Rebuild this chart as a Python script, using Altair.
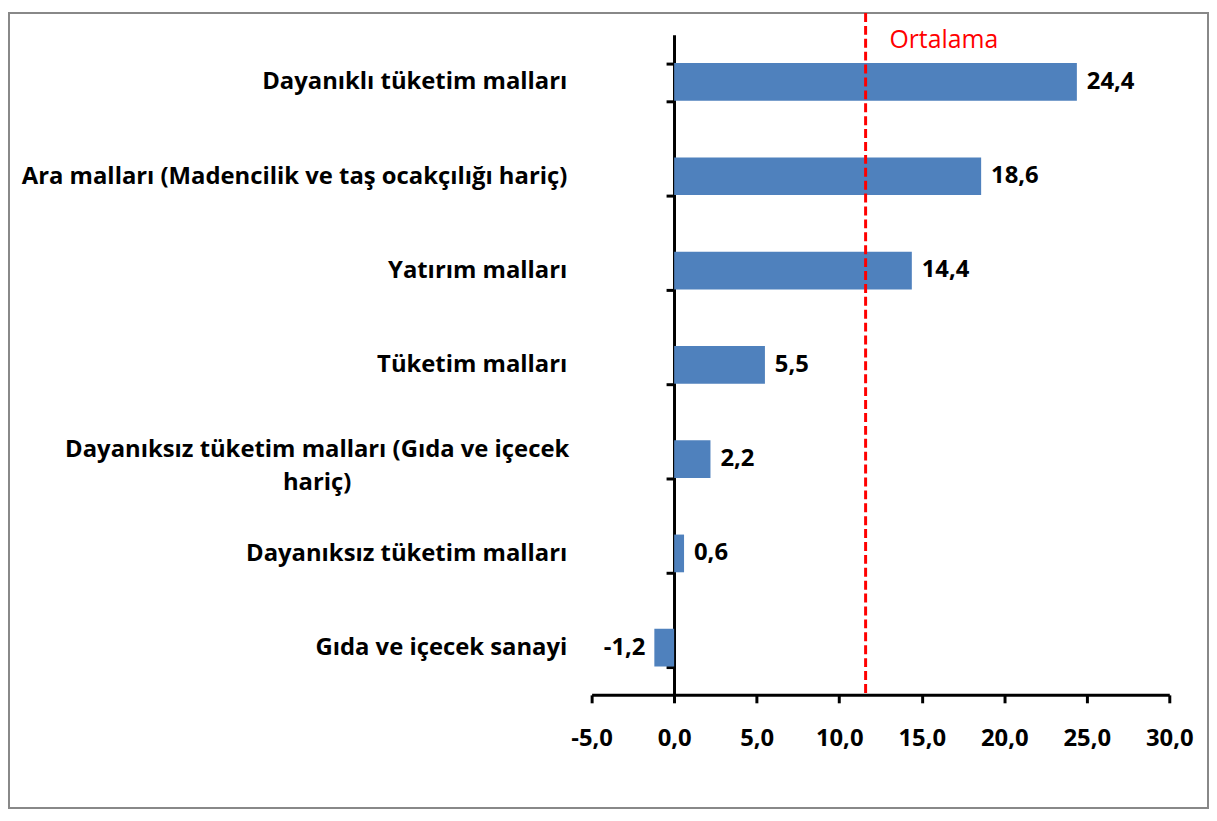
import altair as alt
import pandas as pd

categories = [
    "Dayanıklı tüketim malları",
    "Ara malları (Madencilik ve taş ocakçılığı hariç)",
    "Yatırım malları",
    "Tüketim malları",
    "Dayanıksız tüketim malları (Gıda ve içecek hariç)",
    "Dayanıksız tüketim malları",
    "Gıda ve içecek sanayi",
]
values = [24.4, 18.6, 14.4, 5.5, 2.2, 0.6, -1.2]
x_ticks = [-5, 0, 5, 10, 15, 20, 25, 30]
average_value = [11.6]
average_label = ["Ortalama"]

FONT = "Open Sans"
BLUE = "#4F81BD"
RED = "#FF0000"
FS = 24

df = pd.DataFrame({"kategori": categories, "deger": values})
avg_df = pd.DataFrame({"ort": average_value, "lbl": average_label})
frame_df = pd.DataFrame({"a": [0]})

wrap_cat = categories[4]
wrap_test = f"datum.value == '{wrap_cat}'"
label_expr = (
    f"datum.value == '{wrap_cat}' ? "
    "['Dayanıksız tüketim malları (Gıda ve içecek', 'hariç)'] : datum.label"
)
num_fmt = "replace(replace(format({v}, '.1f'), '.', ','), '\u2212', '-')"

y_enc = alt.Y(
    "kategori:N",
    sort=categories,
    title=None,
    scale=alt.Scale(paddingInner=0.6, paddingOuter=0.3),
    axis=alt.Axis(
        offset=-83,
        tickBand="extent",
        tickSize=8,
        tickWidth=3,
        tickColor="black",
        domainColor="black",
        domainWidth=3,
        labelFont=FONT,
        labelFontSize=FS,
        labelFontWeight="bold",
        labelColor="black",
        labelPadding={"condition": {"test": wrap_test, "value": 352}, "value": 100},
        labelAlign={"condition": {"test": wrap_test, "value": "center"}, "value": "right"},
        labelOffset={"condition": {"test": wrap_test, "value": -10}, "value": 0},
        labelLimit=800,
        labelLineHeight=34,
        labelExpr=label_expr,
    ),
)

x_scale = alt.Scale(domain=[-5, 30], nice=False, zero=False)
x_enc = alt.X(
    "deger:Q",
    scale=x_scale,
    title=None,
    axis=alt.Axis(
        values=x_ticks,
        grid=False,
        tickSize=8,
        tickWidth=3,
        tickColor="black",
        domainColor="black",
        domainWidth=3,
        labelFont=FONT,
        labelFontSize=FS,
        labelFontWeight="bold",
        labelColor="black",
        labelPadding=24,
        labelFlush=False,
        labelOverlap=False,
        labelExpr=num_fmt.format(v="datum.value"),
    ),
)

base = alt.Chart(df).transform_calculate(etiket=num_fmt.format(v="datum.deger"))

bars = base.mark_bar(color=BLUE).encode(x=x_enc, y=y_enc)

pos_text = base.transform_filter("datum.deger >= 0").mark_text(
    align="left", baseline="middle", dx=10, font=FONT, fontSize=FS,
    fontWeight="bold", color="black"
).encode(x=alt.X("deger:Q", scale=x_scale), y=alt.Y("kategori:N", sort=categories), text="etiket:N")

neg_text = base.transform_filter("datum.deger < 0").mark_text(
    align="right", baseline="middle", dx=-9, font=FONT, fontSize=FS,
    fontWeight="bold", color="black"
).encode(x=alt.X("deger:Q", scale=x_scale), y=alt.Y("kategori:N", sort=categories), text="etiket:N")

avg_rule = alt.Chart(avg_df).mark_rule(
    color=RED, strokeWidth=3, strokeDash=[9, 4]
).encode(x=alt.X("ort:Q", scale=x_scale), y=alt.value(-22), y2=alt.value(665))

avg_text = alt.Chart(avg_df).mark_text(
    align="left", baseline="middle", dx=24, font=FONT, fontSize=25, color=RED
).encode(x=alt.X("ort:Q", scale=x_scale), y=alt.value(5), text="lbl:N")

frame = alt.Chart(frame_df).mark_rect(
    fillOpacity=0, stroke="#888888", strokeWidth=2
).encode(x=alt.value(-587), x2=alt.value(621), y=alt.value(-22), y2=alt.value(779))

chart = (
    alt.layer(frame, bars, pos_text, neg_text, avg_rule, avg_text)
    .properties(width=582, height=665, padding=0, background="white")
    .configure_view(strokeWidth=0)
)

chart.save("out.html", embed_options={"renderer": "svg", "actions": False})
